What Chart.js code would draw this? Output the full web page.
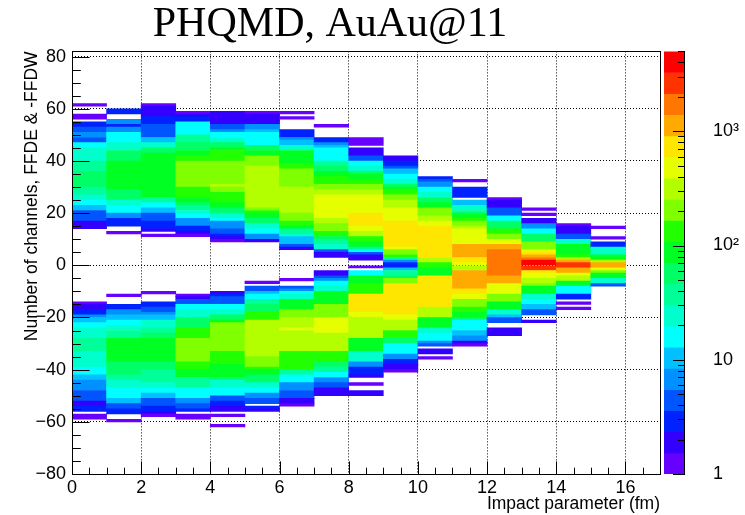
<!DOCTYPE html>
<html>
<head>
<meta charset="utf-8">
<script src="https://cdn.jsdelivr.net/npm/chart.js@4.4.1/dist/chart.umd.min.js"></script>
<style>
  body { margin: 0; background: #fff; }
  #wrap { position: relative; width: 745px; height: 515px; }
  #main { position: absolute; left: 0; top: 0; }
  #zbar { position: absolute; left: 655px; top: 0; }
</style>
</head>
<body>
<div id="wrap">
  <canvas id="main" width="670" height="515"></canvas>
  <canvas id="zbar" width="90" height="515"></canvas>
</div>
<script>
// impact parameter bins (fm), lower edges, 1 fm wide
const impactBins = [0, 1, 2, 3, 4, 5, 6, 7, 8, 9, 10, 11, 12, 13, 14, 15];

// one list per impact bin: [channels from, channels to, entries]
const col0 = [
  [61, 62, 1], [56, 58, 1], [53, 55, 3], [51, 53, 5], [49, 51, 7], [47, 49, 5], [45, 47, 17], [40, 45, 25],
  [36, 40, 40], [30, 36, 60], [27, 30, 40], [25, 27, 25], [23, 25, 17], [21, 23, 11], [17, 21, 5], [14, 17, 2],
  [-15, -14, 1], [-17, -15, 2], [-19, -17, 3], [-20, -19, 7], [-22, -20, 11], [-24, -22, 17], [-28, -24, 25],
  [-33, -28, 40], [-39, -33, 25], [-42, -39, 17], [-44, -42, 11], [-48, -44, 7], [-52, -48, 5], [-54, -52, 2],
  [-56, -54, 3], [-59, -57, 1]
];
const col1 = [
  [58, 60, 3], [54, 56, 7], [53, 54, 3], [51, 53, 7], [47, 51, 17], [44, 47, 25], [40, 44, 60], [29, 40, 95],
  [25, 29, 60], [23, 25, 25], [20, 23, 17], [18, 20, 7], [15, 18, 3], [12, 13, 1],
  [-12, -11, 1], [-17, -15, 3], [-19, -17, 7], [-21, -19, 11], [-23, -21, 17], [-25, -23, 25], [-28, -25, 40],
  [-37, -28, 95], [-42, -37, 60], [-44, -42, 40], [-47, -44, 25], [-51, -47, 17], [-53, -51, 11], [-55, -53, 5],
  [-57, -55, 3], [-60, -59, 1]
];
const col2 = [
  [61, 62, 1], [57, 61, 2], [54, 57, 3], [49, 54, 5], [47, 49, 11], [45, 47, 25], [43, 45, 60], [26, 43, 95],
  [24, 26, 40], [22, 24, 17], [20, 22, 11], [17, 20, 5], [14, 17, 3], [13, 14, 2], [11, 12, 1],
  [-11, -10, 1], [-16, -14, 3], [-18, -16, 5], [-19, -18, 7], [-21, -19, 11], [-24, -21, 25], [-26, -24, 40],
  [-28, -26, 60], [-37, -28, 95], [-40, -37, 60], [-45, -40, 40], [-47, -45, 25], [-49, -47, 17], [-51, -49, 11],
  [-54, -51, 5], [-56, -54, 3], [-57, -56, 2], [-58, -57, 1]
];
const col3 = [
  [58, 59, 1], [57, 58, 2], [55, 57, 3], [50, 55, 17], [47, 50, 40], [44, 47, 60], [42, 44, 95], [40, 42, 145],
  [30, 40, 220], [26, 30, 145], [24, 26, 95], [23, 24, 60], [21, 23, 40], [20, 21, 25], [18, 20, 17], [15, 18, 7],
  [13, 15, 3], [12, 13, 2], [11, 12, 1],
  [-12, -11, 1], [-13, -12, 2], [-15, -13, 5], [-17, -15, 17], [-20, -17, 25], [-24, -20, 60], [-28, -24, 145],
  [-37, -28, 220], [-40, -37, 145], [-43, -40, 95], [-47, -43, 40], [-51, -47, 17], [-53, -51, 7], [-55, -53, 5],
  [-56, -55, 3], [-59, -57, 1]
];
const col4 = [
  [54, 59, 2], [52, 54, 5], [51, 52, 7], [49, 51, 17], [47, 49, 25], [45, 47, 60], [44, 45, 95], [40, 44, 145],
  [31, 40, 220], [30, 31, 340], [28, 30, 220], [24, 28, 145], [22, 24, 95], [20, 22, 60], [18, 20, 25], [17, 18, 17],
  [14, 17, 7], [12, 14, 5], [11, 12, 3], [10, 11, 2], [9, 10, 1],
  [-11, -10, 2], [-12, -11, 3], [-15, -12, 5], [-17, -15, 17], [-19, -17, 25], [-21, -19, 60], [-22, -21, 95],
  [-33, -22, 220], [-38, -33, 145], [-43, -38, 95], [-44, -43, 60], [-47, -44, 25], [-50, -47, 17], [-52, -50, 5],
  [-54, -52, 3], [-56, -54, 2], [-58, -57, 1], [-62, -61, 1]
];
const col5 = [
  [58, 59, 1], [57, 58, 2], [54, 57, 2], [52, 54, 7], [51, 52, 11], [46, 51, 17], [44, 46, 60], [42, 44, 95],
  [38, 42, 220], [22, 38, 340], [21, 22, 220], [20, 21, 145], [18, 20, 95], [16, 18, 60], [14, 16, 25], [12, 14, 17],
  [10, 12, 7], [9, 10, 2],
  [-7, -6, 1], [-10, -8, 5], [-11, -10, 11], [-13, -11, 17], [-15, -13, 40], [-18, -15, 60], [-21, -18, 145],
  [-35, -21, 340], [-39, -35, 220], [-40, -39, 145], [-42, -40, 95], [-45, -42, 60], [-47, -45, 25], [-49, -47, 17],
  [-51, -49, 7], [-53, -51, 5], [-55, -54, 3], [-56, -55, 2]
];
const col6 = [
  [58, 59, 1], [56, 57, 1], [49, 52, 3], [48, 49, 7], [46, 48, 11], [44, 46, 25], [39, 44, 95], [37, 39, 145],
  [30, 37, 220], [20, 30, 340], [17, 20, 220], [15, 17, 145], [14, 15, 95], [12, 14, 40], [11, 12, 25], [8, 11, 11],
  [7, 8, 5], [6, 7, 2],
  [-6, -5, 1], [-9, -8, 5], [-10, -9, 7], [-11, -10, 17], [-13, -11, 25], [-17, -13, 95], [-20, -17, 220],
  [-24, -20, 340], [-25, -24, 520], [-33, -25, 340], [-40, -33, 145], [-42, -40, 40], [-45, -42, 17], [-48, -45, 7],
  [-51, -48, 5], [-53, -51, 2], [-54, -53, 1]
];
const col7 = [
  [53, 54, 1], [47, 49, 3], [46, 47, 7], [45, 46, 11], [40, 45, 17], [38, 40, 40], [36, 38, 60], [34, 36, 95],
  [31, 34, 145], [29, 31, 220], [27, 29, 340], [18, 27, 520], [16, 18, 340], [13, 16, 220], [11, 13, 145], [10, 11, 60],
  [8, 10, 40], [6, 8, 25], [5, 6, 5], [3, 5, 2],
  [-4, -2, 2], [-5, -4, 5], [-6, -5, 7], [-8, -6, 17], [-10, -8, 25], [-15, -10, 95], [-20, -15, 220],
  [-26, -20, 520], [-33, -26, 340], [-37, -33, 145], [-39, -37, 60], [-41, -39, 40], [-43, -41, 17], [-45, -43, 7],
  [-47, -45, 5], [-50, -47, 2]
];
const col8 = [
  [46, 49, 1], [42, 45, 2], [40, 42, 4], [38, 40, 17], [36, 38, 25], [35, 36, 60], [33, 35, 95], [31, 33, 145],
  [29, 31, 220], [27, 29, 340], [20, 27, 520], [15, 20, 800], [13, 15, 520], [11, 13, 340], [9, 11, 145], [7, 9, 95],
  [6, 7, 40], [5, 6, 17], [4, 5, 5], [2, 4, 2], [-1, 0, 1],
  [-4, -2, 17], [-7, -4, 95], [-11, -7, 145], [-18, -11, 800], [-20, -18, 520], [-28, -20, 340], [-33, -28, 95],
  [-37, -33, 25], [-39, -37, 7], [-42, -39, 3], [-43, -42, 2], [-46, -45, 1], [-50, -48, 2]
];
const col9 = [
  [40, 42, 2], [38, 40, 3], [37, 38, 5], [35, 37, 11], [33, 35, 17], [31, 33, 25], [30, 31, 60], [29, 30, 95],
  [27, 29, 145], [25, 27, 220], [22, 25, 340], [17, 22, 520], [7, 17, 800], [6, 7, 520], [4, 6, 220], [3, 4, 145],
  [2, 3, 40], [1, 2, 7], [-1, 1, 3], [-2, -1, 11], [-4, -2, 40], [-5, -4, 60], [-7, -5, 220], [-19, -7, 800],
  [-21, -19, 520], [-25, -21, 340], [-28, -25, 145], [-30, -28, 60], [-34, -30, 17], [-36, -34, 7], [-38, -36, 3],
  [-40, -38, 2], [-41, -40, 1]
];
const col10 = [
  [33, 34, 3], [32, 33, 5], [30, 32, 7], [28, 30, 17], [26, 28, 25], [24, 26, 60], [22, 24, 95], [19, 22, 220],
  [17, 19, 340], [15, 17, 520], [3, 15, 800], [1, 3, 340], [-1, 1, 145], [-4, -1, 95], [-16, -4, 800],
  [-20, -16, 340], [-24, -20, 95], [-26, -24, 25], [-29, -26, 17], [-30, -29, 7], [-31, -30, 5], [-34, -32, 2],
  [-36, -35, 1]
];
const col11 = [
  [32, 33, 1], [26, 30, 3], [23, 25, 11], [21, 23, 25], [20, 21, 40], [18, 20, 95], [17, 18, 145], [15, 17, 220],
  [14, 15, 340], [8, 14, 520], [3, 8, 1250], [1, 3, 800], [0, 1, 520], [-2, 0, 340], [-9, -2, 1250], [-11, -9, 800],
  [-13, -11, 520], [-16, -13, 220], [-18, -16, 145], [-20, -18, 95], [-21, -20, 60], [-25, -21, 17], [-27, -25, 11],
  [-29, -27, 7], [-30, -29, 2], [-31, -30, 1]
];
const col12 = [
  [25, 26, 1], [22, 25, 2], [19, 22, 4], [17, 19, 17], [14, 17, 50], [12, 14, 145], [10, 12, 220], [8, 10, 520],
  [6, 8, 1250], [-4, 6, 1900], [-7, -4, 1250], [-11, -7, 520], [-14, -11, 220], [-17, -14, 95], [-19, -17, 25],
  [-20, -19, 9], [-22, -20, 4], [-27, -24, 2]
];
const col13 = [
  [21, 22, 1], [19, 20, 1], [16, 18, 2], [14, 16, 7], [12, 14, 17], [9, 12, 60], [6, 9, 220], [5, 6, 520],
  [4, 5, 800], [3, 4, 1250], [2, 3, 1900], [0, 2, 4500], [-2, 0, 2900], [-3, -2, 800], [-5, -3, 520], [-7, -5, 340],
  [-8, -7, 220], [-11, -8, 95], [-13, -11, 25], [-15, -13, 17], [-17, -15, 11], [-19, -17, 4], [-22, -21, 2]
];
const col14 = [
  [15, 16, 1], [12, 15, 2], [10, 12, 5], [8, 10, 25], [4, 8, 95], [3, 4, 145], [2, 3, 340], [1, 2, 1250],
  [-1, 1, 2900], [-3, -1, 1250], [-4, -3, 520], [-6, -4, 340], [-8, -6, 95], [-11, -8, 17], [-13, -11, 3],
  [-15, -14, 1], [-17, -16, 1]
];
const col15 = [
  [14, 15, 1], [10, 11, 1], [7, 9, 3], [4, 7, 25], [2, 4, 95], [1, 2, 340], [-1, 1, 1250], [-2, -1, 520],
  [-3, -2, 220], [-5, -3, 95], [-7, -5, 25], [-8, -7, 4]
];
const columns = [col0, col1, col2, col3, col4, col5, col6, col7, col8, col9, col10, col11, col12, col13, col14, col15];

// colour scale: 20 log contours from 1 up to zMax
const zMax = 5000;
const nContours = 20;
const paletteColors = [
  '#6600ff', '#3300ff', '#0022ff', '#0055ff', '#0090ff', '#00c0ff', '#00ffff', '#00ffcc', '#00ff99', '#00ff66',
  '#00ff22', '#22ff00', '#80ff00', '#b3ff00', '#e6ff00', '#ffe600', '#ffaa00', '#ff7700', '#ff3300', '#ff0000'
];
const zTickValues = [1, 10, 100, 1000];
const zTickLabels = ['1', '10', '10\u00b2', '10\u00b3'];

const FONT = "'Liberation Sans', Arial, sans-serif";

const levelOf = (n) => Math.min(nContours - 1, Math.max(0, Math.floor(Math.log10(n) / Math.log10(zMax) * nContours)));
const minus = (v) => (v < 0 ? '\u2212' + Math.abs(v) : String(v));
const steps = (from, to, step) => {
  const out = [];
  for (let v = from; v <= to + 1e-9; v += step) out.push(+v.toFixed(3));
  return out;
};

// ROOT style ticks drawn inside the frame
function frameTicks(marks, frame) {
  return {
    id: 'frameTicks',
    afterDraw(chart) {
      const { ctx, chartArea: a } = chart;
      ctx.save();
      ctx.strokeStyle = '#000';
      ctx.lineWidth = 1;
      ctx.beginPath();
      marks.forEach(({ scale, side, values, len }) => {
        const s = chart.scales[scale];
        values.forEach(v => {
          const p = Math.round(s.getPixelForValue(v)) + 0.5;
          if (side === 'bottom') { ctx.moveTo(p, a.bottom); ctx.lineTo(p, a.bottom - len); }
          else if (side === 'left') { ctx.moveTo(a.left, p); ctx.lineTo(a.left + len, p); }
          else { ctx.moveTo(a.right, p); ctx.lineTo(a.right - len, p); }
        });
      });
      ctx.stroke();
      if (frame) {
        ctx.strokeRect(Math.round(a.left) + 0.5, Math.round(a.top) + 0.5,
          Math.round(a.right - a.left), Math.round(a.bottom - a.top));
      }
      ctx.restore();
    }
  };
}

const cells = columns.flatMap((col, i) =>
  col.map(([lo, hi, n]) => ({ x: impactBins[i] + 0.5, y: [lo, hi], n })));

new Chart(document.getElementById('main'), {
  type: 'bar',
  data: {
    datasets: [{
      data: cells,
      backgroundColor: c => (c.raw ? paletteColors[levelOf(c.raw.n)] : '#000'),
      borderWidth: 0,
      barPercentage: 1,
      categoryPercentage: 1
    }]
  },
  options: {
    responsive: false,
    animation: false,
    devicePixelRatio: 1,
    layout: { padding: { right: 10 } },
    plugins: {
      legend: { display: false },
      tooltip: { enabled: false },
      title: {
        display: true,
        text: 'PHQMD, AuAu@11',
        color: '#000',
        font: { family: "'Liberation Serif', 'Times New Roman', serif", size: 42, weight: 'normal', lineHeight: 1.2 },
        padding: { top: 0, bottom: 1 }
      }
    },
    scales: {
      x: {
        type: 'linear', min: 0, max: 17, offset: false, z: 1,
        grid: { offset: false, color: '#000', lineWidth: 1, drawTicks: false },
        border: { display: false, dash: [1, 2] },
        ticks: {
          stepSize: 2, includeBounds: false, autoSkip: false, maxRotation: 0, padding: 3, color: '#000',
          font: { family: FONT, size: 18 }
        },
        title: {
          display: true, text: 'Impact parameter (fm)', align: 'end', color: '#000',
          font: { family: FONT, size: 17.5 }, padding: 0
        },
        afterFit: s => { s.height = 41; }
      },
      y: {
        type: 'linear', min: -80, max: 82, z: 1,
        grid: { color: '#000', lineWidth: 1, drawTicks: false },
        border: { display: false, dash: [1, 2] },
        ticks: {
          stepSize: 20, includeBounds: false, padding: 6, color: '#000',
          font: { family: FONT, size: 18 }, callback: v => minus(v)
        },
        title: {
          display: true, text: 'Number of channels, FFDE & -FFDW', align: 'end', color: '#000',
          font: { family: FONT, size: 17.5 }, padding: { top: 22, bottom: 0 }
        },
        afterFit: s => { s.width = 72; }
      }
    }
  },
  plugins: [frameTicks([
    { scale: 'x', side: 'bottom', values: steps(0, 16, 2), len: 12.6 },
    { scale: 'x', side: 'bottom', values: steps(0, 17, 0.5), len: 6.3 },
    { scale: 'y', side: 'left', values: steps(-80, 80, 20), len: 17.6 },
    { scale: 'y', side: 'left', values: steps(-80, 80, 5), len: 8.8 }
  ], true)]
});

// colour bar
const zEdges = steps(0, nContours, 1).map(k => Math.pow(10, k * Math.log10(zMax) / nContours));
const zMinor = [2, 3, 4, 5, 6, 7, 8, 9, 20, 30, 40, 50, 60, 70, 80, 90, 200, 300, 400, 500, 600, 700, 800, 900,
  2000, 3000, 4000, 5000];

new Chart(document.getElementById('zbar'), {
  type: 'bar',
  data: {
    labels: ['z'],
    datasets: [{
      data: paletteColors.map((_, k) => ({ x: 'z', y: [zEdges[k], zEdges[k + 1]] })),
      backgroundColor: c => paletteColors[c.dataIndex] || '#000',
      borderWidth: 0,
      barPercentage: 1,
      categoryPercentage: 1
    }]
  },
  options: {
    responsive: false,
    animation: false,
    devicePixelRatio: 1,
    layout: { padding: { left: 9, top: 51.4, bottom: 41, right: 0 } },
    plugins: { legend: { display: false }, tooltip: { enabled: false } },
    scales: {
      x: { display: false },
      y: {
        type: 'logarithmic', position: 'right', min: 1, max: zMax,
        grid: { display: false },
        border: { display: true, color: '#000', width: 1 },
        afterBuildTicks: s => { s.ticks = zTickValues.map(value => ({ value })); },
        ticks: {
          padding: 21, color: '#000', font: { family: FONT, size: 18 },
          callback: (v, i) => zTickLabels[i]
        },
        afterFit: s => { s.width = 61; }
      }
    }
  },
  plugins: [frameTicks([
    { scale: 'y', side: 'right', values: zTickValues, len: 11 },
    { scale: 'y', side: 'right', values: zMinor, len: 6 }
  ], false)]
});
</script>
</body>
</html>
